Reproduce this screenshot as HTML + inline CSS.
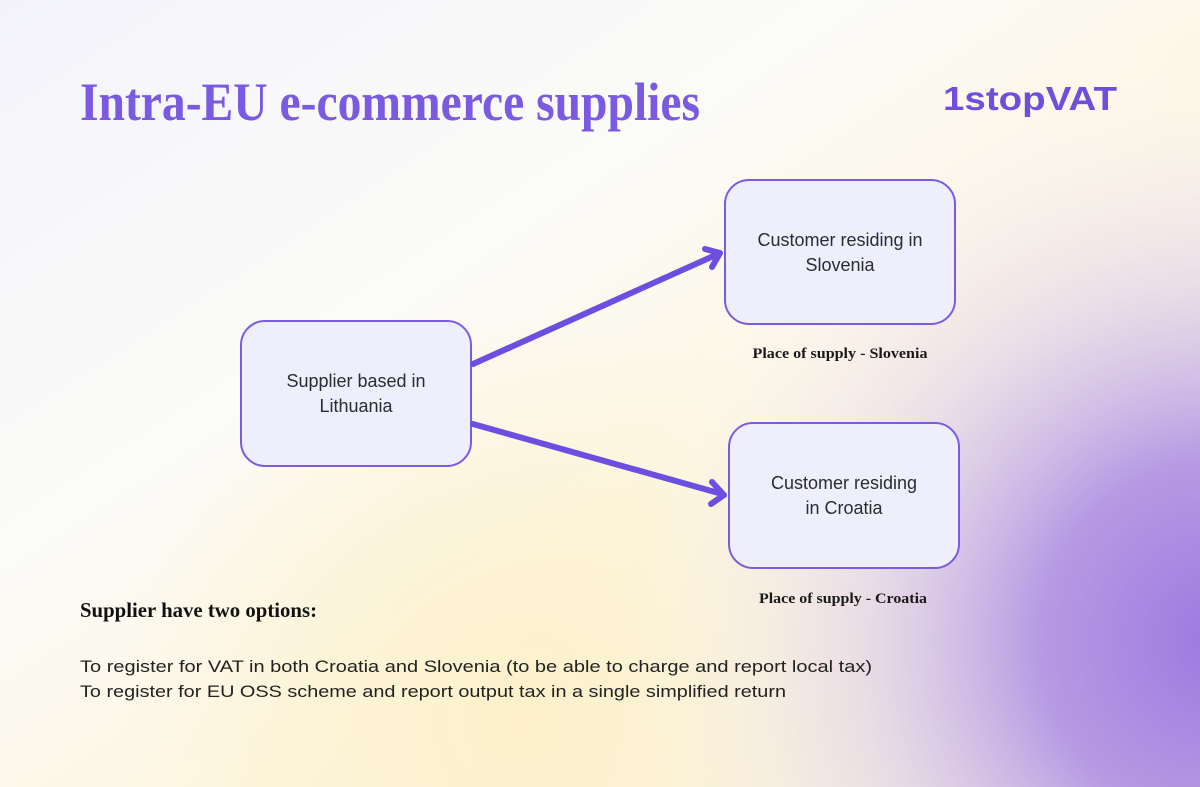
<!DOCTYPE html>
<html><head><meta charset="utf-8"><style>
html,body{margin:0;padding:0;width:1200px;height:787px;overflow:hidden}
svg{display:block}
.sans{font-family:"Liberation Sans",sans-serif}
.serif{font-family:"Liberation Serif",serif}
</style></head><body>
<svg width="1200" height="787" viewBox="0 0 1200 787" xmlns="http://www.w3.org/2000/svg">
<defs>
<linearGradient id="bg" x1="0" y1="0" x2="1" y2="1">
<stop offset="0" stop-color="#f4f3fb"/>
<stop offset="0.35" stop-color="#fbfbf8"/>
<stop offset="0.6" stop-color="#fdf6e2"/>
<stop offset="1" stop-color="#f7eed8"/>
</linearGradient>
<radialGradient id="pur" cx="1220" cy="640" r="600" gradientUnits="userSpaceOnUse">
<stop offset="0" stop-color="#9c78e0"/>
<stop offset="0.3" stop-color="#ae90e4" stop-opacity="0.9"/>
<stop offset="0.6" stop-color="#d9c8ee" stop-opacity="0.5"/>
<stop offset="1" stop-color="#ffffff" stop-opacity="0"/>
</radialGradient>
<radialGradient id="yel" cx="520" cy="720" r="400" gradientUnits="userSpaceOnUse">
<stop offset="0" stop-color="#fdf0c8" stop-opacity="0.9"/>
<stop offset="1" stop-color="#fdf0c8" stop-opacity="0"/>
</radialGradient>
</defs>
<rect width="1200" height="787" fill="url(#bg)"/>
<rect width="1200" height="787" fill="url(#yel)"/>
<rect width="1200" height="787" fill="url(#pur)"/>

<text x="80" y="120" class="serif" font-weight="bold" font-size="54" fill="#7a5ae0" textLength="620" lengthAdjust="spacingAndGlyphs">Intra-EU e-commerce supplies</text>
<text x="943" y="110" class="sans" font-weight="bold" font-size="33" fill="#6e4fdc" textLength="174" lengthAdjust="spacingAndGlyphs">1stopVAT</text>

<g fill="#efeefd" stroke="#7b5ce0" stroke-width="2">
<rect x="241" y="321" width="230" height="145" rx="24"/>
<rect x="725" y="180" width="230" height="144" rx="24"/>
<rect x="729" y="423" width="230" height="145" rx="24"/>
</g>

<g stroke="#6c4fe0" stroke-width="6" stroke-linecap="round" stroke-linejoin="round" fill="none">
<line x1="473" y1="364" x2="718" y2="254"/>
<polyline points="705,249 720,253 712,267"/>
<line x1="473" y1="424" x2="722" y2="494"/>
<polyline points="712,482 724,495 711,504"/>
</g>

<g class="sans" font-size="18" fill="#2b2b33" text-anchor="middle">
<text x="356" y="387">Supplier based in</text>
<text x="356" y="412">Lithuania</text>
<text x="840" y="246">Customer residing in</text>
<text x="840" y="271">Slovenia</text>
<text x="844" y="489">Customer residing</text>
<text x="844" y="514">in Croatia</text>
</g>

<g class="serif" font-weight="bold" font-size="15" fill="#1a1a1a" text-anchor="middle">
<text x="840" y="358" textLength="175" lengthAdjust="spacingAndGlyphs">Place of supply - Slovenia</text>
<text x="843" y="603" textLength="168" lengthAdjust="spacingAndGlyphs">Place of supply - Croatia</text>
</g>

<text x="80" y="617" class="serif" font-weight="bold" font-size="21" fill="#111" textLength="237" lengthAdjust="spacingAndGlyphs">Supplier have two options:</text>
<g class="sans" font-size="17" fill="#222">
<text x="80" y="672" textLength="792" lengthAdjust="spacingAndGlyphs">To register for VAT in both Croatia and Slovenia (to be able to charge and report local tax)</text>
<text x="80" y="697" textLength="706" lengthAdjust="spacingAndGlyphs">To register for EU OSS scheme and report output tax in a single simplified return</text>
</g>
</svg>
</body></html>
